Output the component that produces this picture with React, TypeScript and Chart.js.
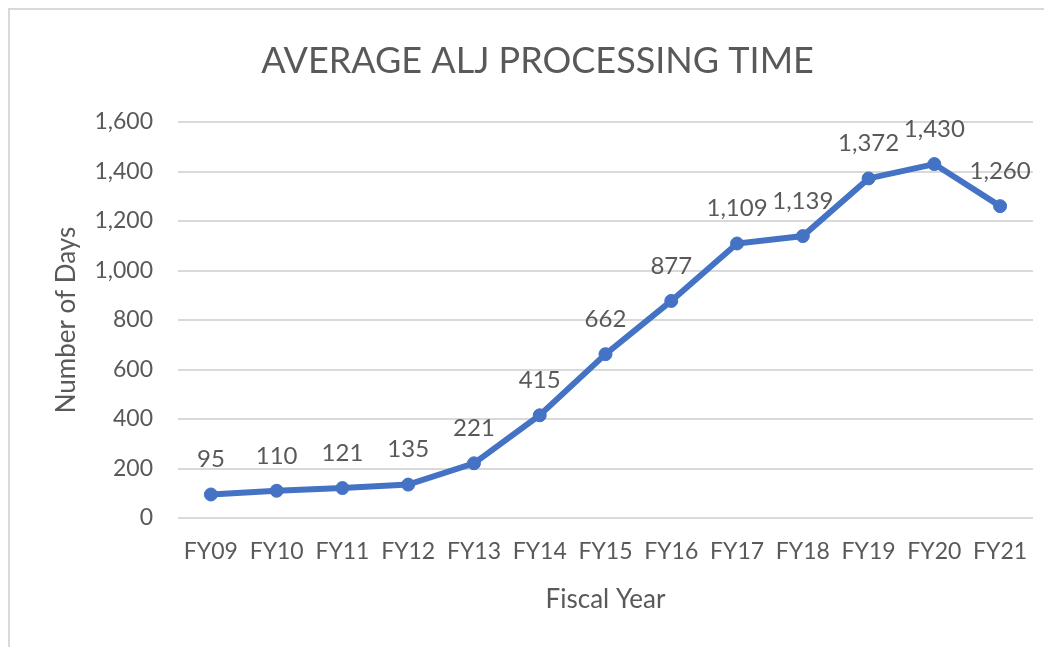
import React, { useEffect, useRef } from "react";
import { Chart, registerables } from "chart.js";

Chart.register(...registerables);

const categories = ["FY09", "FY10", "FY11", "FY12", "FY13", "FY14", "FY15", "FY16", "FY17", "FY18", "FY19", "FY20", "FY21"];
const days = [95, 110, 121, 135, 221, 415, 662, 877, 1109, 1139, 1372, 1430, 1260];
const yTicks = [0, 200, 400, 600, 800, 1000, 1200, 1400, 1600];
const titleText = "AVERAGE ALJ PROCESSING TIME";
const xTitle = "Fiscal Year";
const yTitle = "Number of Days";

const FONT = "Lato, 'Open Sans', sans-serif";
const TEXT = "#595959";
const GRID = "#d9d9d9";
const LINE = "#4472C4";

const labelPlugin = {
  id: "pointLabels",
  afterDatasetsDraw(chart: any) {
    const ctx = chart.ctx;
    const meta = chart.getDatasetMeta(0);
    ctx.save();
    ctx.font = `24px ${FONT}`;
    ctx.fillStyle = TEXT;
    ctx.textAlign = "center";
    ctx.textBaseline = "middle";
    meta.data.forEach((pt: any, i: number) => {
      const v = chart.data.datasets[0].data[i];
      ctx.fillText(Number(v).toLocaleString("en-US"), pt.x, pt.y - 35);
    });
    ctx.restore();
  },
};

export default function App() {
  const ref = useRef<HTMLCanvasElement>(null);
  useEffect(() => {
    if (!ref.current) return;
    const chart = new Chart(ref.current, {
      type: "line",
      data: {
        labels: categories,
        datasets: [
          {
            data: days,
            borderColor: LINE,
            backgroundColor: LINE,
            borderWidth: 6,
            pointRadius: 6.5,
            pointBorderWidth: 1,
            pointBackgroundColor: LINE,
            pointBorderColor: LINE,
            tension: 0,
          },
        ],
      },
      options: {
        responsive: false,
        animation: false,
        layout: { padding: { left: 32, right: 19, top: 0, bottom: 19 } },
        plugins: {
          legend: { display: false },
          tooltip: { enabled: false },
          title: {
            display: true,
            text: titleText,
            color: TEXT,
            font: { family: FONT, size: 36, weight: "normal" },
            padding: { top: 30, bottom: 38.8 },
          },
        },
        scales: {
          x: {
            offset: true,
            grid: { display: false, drawTicks: false },
            border: { display: false },
            ticks: { color: TEXT, font: { family: FONT, size: 23 }, padding: 20, maxRotation: 0, autoSkip: false },
            title: { display: true, text: xTitle, color: TEXT, font: { family: FONT, size: 26 }, padding: { top: 0, bottom: 13 } },
            afterFit(scale: any) {
              scale.height = 110;
            },
          },
          y: {
            min: 0,
            max: 1600,
            afterBuildTicks(scale: any) {
              scale.ticks = yTicks.map((v) => ({ value: v }));
            },
            grid: { color: GRID, lineWidth: 2, drawTicks: false },
            border: { display: false },
            ticks: {
              color: TEXT,
              font: { family: FONT, size: 23 },
              padding: 25,
              callback: (v: any) => Number(v).toLocaleString("en-US"),
            },
            title: { display: true, text: yTitle, color: TEXT, font: { family: FONT, size: 26 }, padding: { top: 9, bottom: 0 } },
            afterFit(scale: any) {
              scale.width = 136;
            },
          },
        },
      },
      plugins: [labelPlugin],
    });
    return () => chart.destroy();
  }, []);
  return (
    <div style={{ borderLeft: "2px solid #d9d9d9", borderTop: "2px solid #d9d9d9", width: 1042, height: 637, background: "#fff" }}>
      <canvas ref={ref} width={1042} height={637} style={{ display: "block" }} />
    </div>
  );
}
